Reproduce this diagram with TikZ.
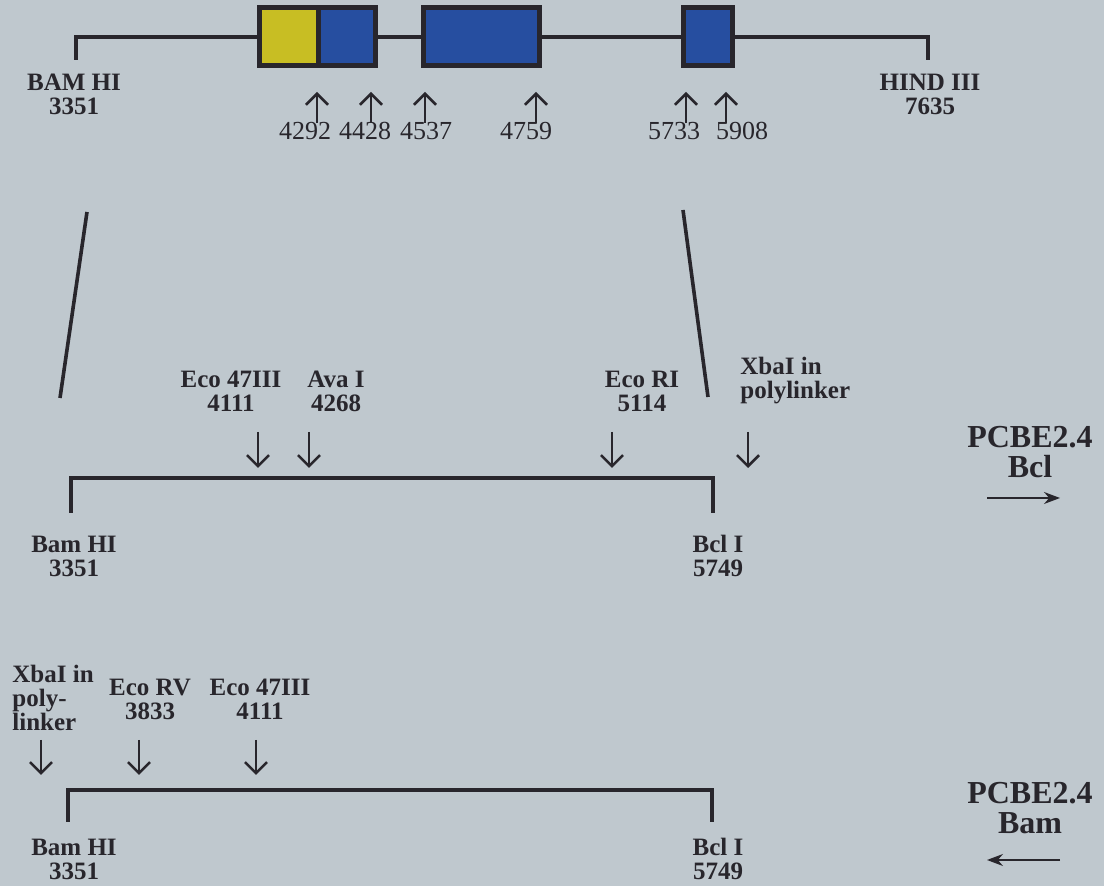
\documentclass[tikz,border=0pt]{standalone}
\usepackage{fontspec}
\setmainfont{Liberation Serif}
\usetikzlibrary{arrows.meta}
\definecolor{paper}{RGB}{191,200,206}
\definecolor{ink}{RGB}{40,38,44}
\definecolor{exonY}{RGB}{200,190,35}
\definecolor{exonB}{RGB}{38,78,160}
\tikzset{
  site/.style={font=\bfseries\fontsize{12.5}{12}\selectfont, text=ink, align=center, inner sep=0pt},
  num/.style={font=\fontsize{13}{12}\selectfont, text=ink, inner sep=0pt},
  dna/.style={draw=ink, line width=2.3pt},
  exon/.style={draw=ink, line width=2.5pt},
  slant/.style={draw=ink, line width=1.8pt},
  cut/.style={draw=ink, line width=1.2pt, -{Straight Barb[length=5.5pt,width=11pt,line width=1.3pt]}},
  dir/.style={draw=ink, line width=0.7pt, -{Stealth[length=8pt,width=6pt]}},
}
\begin{document}
\begin{tikzpicture}[x=0.5pt,y=-0.5pt]
  % background
  \path[fill=paper] (0,0) rectangle (1104,886);
  \useasboundingbox (0,0) rectangle (1104,886);

  % genomic fragment
  \coordinate (bamT) at (76,60);
  \coordinate (hindT) at (928,60);
  \path[dna] (bamT) -- (76,37) -- (928,37) -- (hindT);

  % exons
  \path[fill=exonY] (259,8) rectangle (318,66);
  \path[fill=exonB] (318,8) rectangle (375,66);
  \path[exon] (259,8) rectangle (375,66);
  \path[exon] (318,8) -- (318,66);
  \path[exon, fill=exonB] (423,8) rectangle (539,66);
  \path[exon, fill=exonB] (683,8) rectangle (732,66);

  \node[site] (bamTl) at (74,94) {BAM HI\\3351};
  \node[site] (hindTl) at (930,94) {HIND III\\7635};

  % exon borders
  \foreach \x/\n/\lx in {317/4292/305, 371/4428/365, 425/4537/426, 536/4759/526, 686/5733/674, 726/5908/742} {
    \node[num] (n\n) at (\lx,131) {\n};
    \coordinate (a\n) at (\x,123);
    \coordinate (t\n) at (\x,92);
    \draw[cut] (a\n) to (t\n);
  }

  % subcloned region
  \coordinate (sl1) at (87,212);
  \coordinate (sl2) at (60,398);
  \coordinate (sr1) at (683,210);
  \coordinate (sr2) at (708,397);
  \path[slant] (sl1) -- (sl2);
  \path[slant] (sr1) -- (sr2);

  % PCBE2.4 Bcl
  \coordinate (bamM) at (71,513);
  \coordinate (bclM) at (713,513);
  \path[dna] (bamM) -- (71,478) -- (713,478) -- (bclM);
  \node[site] (bamMl) at (74,556) {Bam HI\\3351};
  \node[site] (bclMl) at (718,556) {Bcl I\\5749};
  \node[site] (eco47M) at (231,391) {Eco 47III\\4111};
  \node[site] (avaM) at (336,391) {Ava I\\4268};
  \node[site] (ecoRIM) at (642,391) {Eco RI\\5114};
  \node[site, anchor=west, align=left] (xbaM) at (740,381) {XbaI in\\polylinker};
  \foreach \x/\n in {258/a, 309/b, 612/c, 748/d} {
    \coordinate (m\n) at (\x,432);
    \coordinate (k\n) at (\x,468);
    \draw[cut] (m\n) to (k\n);
  }
  \node[site, font=\bfseries\fontsize{16}{15}\selectfont] (pcbeBcl) at (1030,452) {PCBE2.4\\Bcl};
  \coordinate (dirA1) at (987,498);
  \coordinate (dirA2) at (1060,498);
  \draw[dir] (dirA1) to (dirA2);

  % PCBE2.4 Bam
  \coordinate (bamB) at (68,822);
  \coordinate (bclB) at (712,822);
  \path[dna] (bamB) -- (68,790) -- (712,790) -- (bclB);
  \node[site] (bamBl) at (74,859) {Bam HI\\3351};
  \node[site] (bclBl) at (718,859) {Bcl I\\5749};
  \node[site, anchor=west, align=left] (xbaB) at (12,698) {XbaI in\\poly-\\linker};
  \node[site] (ecoRVB) at (150,699) {Eco RV\\3833};
  \node[site] (eco47B) at (260,699) {Eco 47III\\4111};
  \foreach \x/\n in {41/a, 139/b, 256/c} {
    \coordinate (p\n) at (\x,740);
    \coordinate (q\n) at (\x,775);
    \draw[cut] (p\n) to (q\n);
  }
  \node[site, font=\bfseries\fontsize{16}{15}\selectfont] (pcbeBam) at (1030,808) {PCBE2.4\\Bam};
  \coordinate (dirB1) at (1060,860);
  \coordinate (dirB2) at (987,860);
  \draw[dir] (dirB1) to (dirB2);
\end{tikzpicture}
\end{document}
